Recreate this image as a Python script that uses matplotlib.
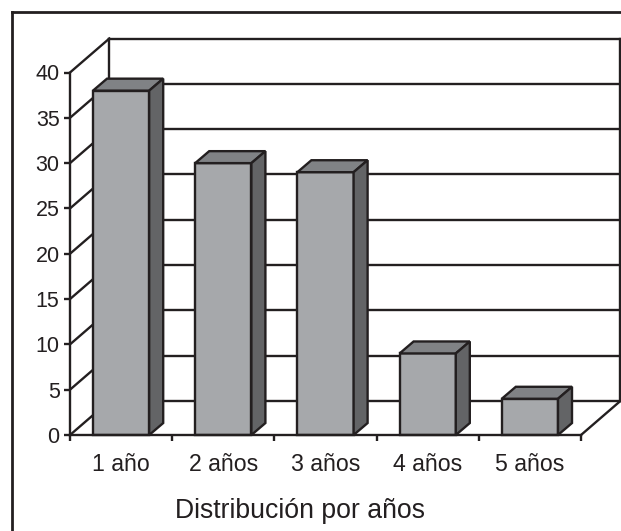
import matplotlib
matplotlib.use("Agg")
import matplotlib.pyplot as plt
from matplotlib.patches import Polygon
from matplotlib.lines import Line2D

plt.rcParams["font.family"] = ["Liberation Sans", "DejaVu Sans"]

# Data
categories = ["1 año", "2 años", "3 años", "4 años", "5 años"]
values = [38, 30, 29, 9, 4]
y_ticks = [0, 5, 10, 15, 20, 25, 30, 35, 40]
x_title = "Distribución por años"

W, H = 621, 531
ink = "#231f20"
front_col = "#a6a8ab"
top_col = "#808285"
side_col = "#636466"

fig = plt.figure(figsize=(W / 100, H / 100), dpi=100)
# axes box = front plane of the fake 3D chart
left, right, top, bottom = 70, 581, 72.5, 435
ax = fig.add_axes([left / W, 1 - bottom / H, (right - left) / W, (bottom - top) / H])
ax.set_xlim(0, 5)
ax.set_ylim(0, 40)
ax.patch.set_alpha(0)

# depth of the walls and of the bars, in data units
wall_dx, wall_dy = 0.385, 3.75
bar_dx, bar_dy = 0.137, 1.32
bar_w = 0.55
lw = 1.7


def line(xs, ys, width=lw):
    ax.plot(xs, ys, color=ink, lw=width, clip_on=False, solid_capstyle="projecting", zorder=2)


# back wall gridlines and the diagonals on the side wall
for v in y_ticks:
    line([wall_dx, 5 + wall_dx], [v + wall_dy, v + wall_dy])
    line([0, wall_dx], [v, v + wall_dy])
line([wall_dx, wall_dx], [wall_dy, 40 + wall_dy])
line([5 + wall_dx, 5 + wall_dx], [wall_dy, 40 + wall_dy])
line([5, 5 + wall_dx], [0, wall_dy])

# bars
for i, v in enumerate(values):
    x0 = i + 0.5 - bar_w / 2
    x1 = i + 0.5 + bar_w / 2
    faces = [
        ([(x0, 0), (x1, 0), (x1, v), (x0, v)], front_col),
        ([(x0, v), (x1, v), (x1 + bar_dx, v + bar_dy), (x0 + bar_dx, v + bar_dy)], top_col),
        ([(x1, 0), (x1 + bar_dx, bar_dy), (x1 + bar_dx, v + bar_dy), (x1, v)], side_col),
    ]
    for pts, col in faces:
        ax.add_patch(Polygon(pts, closed=True, facecolor=col, edgecolor=ink, lw=lw,
                             joinstyle="miter", clip_on=False, zorder=3))

for s in ["top", "right"]:
    ax.spines[s].set_visible(False)
for s in ["left", "bottom"]:
    ax.spines[s].set_color(ink)
    ax.spines[s].set_linewidth(lw)
    ax.spines[s].set_zorder(4)

ax.set_yticks(y_ticks)
ax.set_xticks(range(6))
ax.set_xticklabels([])
ax.set_xticks([i + 0.5 for i in range(5)], categories, minor=True)
ax.tick_params(axis="y", which="major", length=4.5, width=lw, color=ink, labelcolor=ink,
               labelsize=15.5, pad=3)
ax.tick_params(axis="x", which="major", length=4, width=lw, color=ink)
ax.tick_params(axis="x", which="minor", length=0, labelcolor=ink, labelsize=16.7, pad=13)
ax.set_xlabel(x_title, fontsize=19.2, color=ink, labelpad=16, x=(300 - left) / (right - left))

# outer frame runs off the right and bottom of the picture
fig.add_artist(Line2D([11.5 / W, 11.5 / W], [0, 1 - 12 / H], color=ink, lw=2))
fig.add_artist(Line2D([11.5 / W, 1], [1 - 12 / H, 1 - 12 / H], color=ink, lw=2))

fig.savefig("out.png", dpi=100)
